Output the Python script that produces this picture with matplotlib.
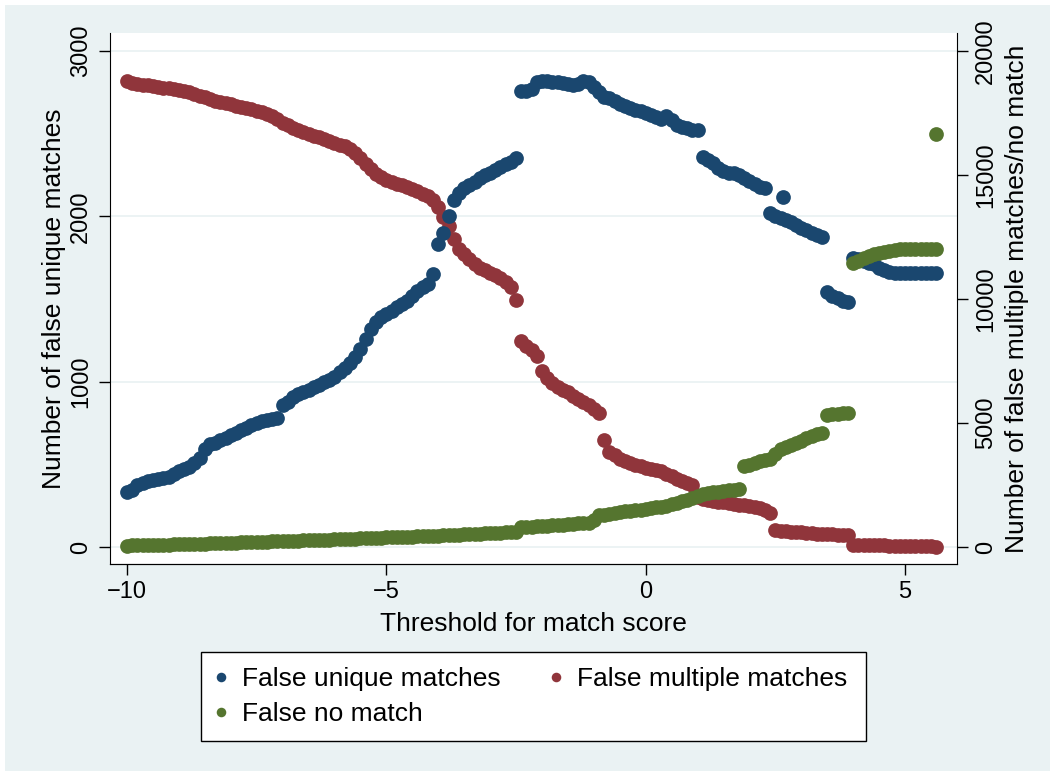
import numpy as np
import matplotlib
matplotlib.use('Agg')
import matplotlib.pyplot as plt
from matplotlib.patches import Rectangle

plt.rcParams['font.family'] = ['Liberation Sans', 'DejaVu Sans']

# threshold grid (-10.0 ... 5.6 in steps of 0.1)
thresholds = np.round(np.arange(-10.0, 5.65, 0.1), 1)

# false unique matches (left axis)
unique = [330, 345, 375, 390, 400, 405, 412, 418, 425, 440,
          460, 470, 485, 510, 540, 590, 620, 630, 645, 660,
          675, 690, 705, 720, 735, 750, 760, 770, 775, 780,
          860, 880, 905, 925, 940, 950, 965, 980, 995, 1010,
          1030, 1060, 1085, 1110, 1150, 1200, 1260, 1320, 1360, 1390,
          1410, 1430, 1450, 1470, 1490, 1520, 1550, 1570, 1590, 1650,
          1830, 1900, 2000, 2100, 2140, 2170, 2190, 2210, 2230, 2250,
          2265, 2280, 2300, 2315, 2330, 2350, 2760, 2760, 2770, 2810,
          2820, 2820, 2815, 2810, 2805, 2800, 2795, 2800, 2820, 2810,
          2780, 2750, 2720, 2715, 2700, 2680, 2665, 2655, 2645, 2635,
          2625, 2615, 2600, 2590, 2605, 2580, 2555, 2540, 2535, 2525,
          2520, 2360, 2340, 2320, 2290, 2275, 2265, 2260, 2250, 2230,
          2215, 2195, 2180, 2170, 2020, 2000, 1990, 1975, 1965, 1945,
          1930, 1915, 1900, 1885, 1875, 1540, 1520, 1505, 1490, 1480,
          1750, 1740, 1730, 1720, 1710, 1690, 1675, 1665, 1660, 1658,
          1655, 1655, 1655, 1655, 1655, 1655, 1655]
unique_extra_x = [2.65]
unique_extra_y = [2115]

# false multiple matches (right axis)
multiple = [18800, 18720, 18680, 18640, 18610, 18580, 18550, 18520, 18490, 18460,
            18420, 18380, 18330, 18270, 18200, 18130, 18060, 18000, 17950, 17900,
            17850, 17800, 17750, 17700, 17650, 17600, 17530, 17450, 17370, 17250,
            17100, 17000, 16900, 16800, 16720, 16650, 16580, 16520, 16450, 16380,
            16300, 16230, 16150, 16050, 15900, 15700, 15450, 15250, 15050, 14920,
            14800, 14720, 14640, 14580, 14500, 14430, 14350, 14250, 14150, 14000,
            13700, 13300, 12950, 12400, 12000, 11800, 11600, 11400, 11250, 11150,
            11050, 10950, 10850, 10700, 10500, 9980, 8300, 8100, 7950, 7700,
            7100, 6800, 6600, 6450, 6350, 6250, 6100, 5980, 5850, 5720,
            5550, 5400, 4300, 3850, 3700, 3550, 3450, 3380, 3300, 3250,
            3200, 3150, 3100, 3050, 2950, 2850, 2750, 2650, 2580, 2500,
            2000, 1950, 1900, 1860, 1830, 1800, 1780, 1750, 1700, 1680,
            1650, 1620, 1560, 1480, 1380, 700, 660, 640, 620, 600,
            590, 570, 550, 540, 530, 520, 510, 500, 490, 470,
            100, 90, 85, 80, 75, 70, 65, 60, 55, 50,
            45, 40, 40, 40, 40, 40, 0]

# false no match (right axis)
nomatch = [60, 64, 68, 72, 76, 80, 86, 92, 98, 104,
           110, 116, 122, 128, 134, 140, 146, 152, 158, 164,
           170, 176, 182, 188, 194, 200, 208, 216, 224, 232,
           240, 246, 252, 258, 264, 270, 278, 286, 294, 302,
           310, 318, 326, 334, 342, 350, 358, 366, 374, 382,
           390, 396, 402, 408, 414, 420, 428, 436, 444, 452,
           460, 470, 480, 490, 500, 510, 520, 530, 540, 550,
           560, 572, 584, 596, 608, 620, 790, 805, 820, 835,
           850, 864, 878, 892, 906, 920, 935, 950, 965, 980,
           1080, 1280, 1310, 1340, 1380, 1420, 1440, 1460, 1480, 1500,
           1520, 1560, 1600, 1630, 1670, 1720, 1780, 1840, 1900, 1980,
           2060, 2120, 2170, 2200, 2230, 2260, 2285, 2310, 2340, 3250,
           3300, 3380, 3450, 3500, 3550, 3750, 3950, 4050, 4120, 4200,
           4280, 4380, 4480, 4560, 4600, 5320, 5350, 5370, 5390, 5420,
           11450, 11550, 11650, 11750, 11800, 11850, 11900, 11950, 11980, 12000,
           12000, 12000, 12000, 12000, 12000, 12000, 12000]
nomatch_extra_x = [5.6]
nomatch_extra_y = [16650]

navy = '#1a476f'
maroon = '#90353b'
green = '#55752f'
bg = '#eaf2f3'
ms = 10.6

fig = plt.figure(figsize=(10.5, 7.71), dpi=100, facecolor='white')
fig.patches.append(Rectangle((5/1050, 0), 1, 1 - 5/771, transform=fig.transFigure,
                             facecolor=bg, edgecolor='none', zorder=-10))

pos = [110/1050, 1 - 564/771, 847/1050, 531/771]
xlim = (-10.328, 6.002)
ylim_l = (-102.8, 3108.9)
ylim_r = (ylim_l[0] * 20 / 3, ylim_l[1] * 20 / 3)

ax = fig.add_axes(pos)
ax.set_facecolor('white')
ax.set_xlim(xlim)
ax.set_ylim(ylim_l)
ax.set_yticks([0, 1000, 2000, 3000])
ax.set_xticks([-10, -5, 0, 5])
ax.grid(axis='y', color=bg, lw=1.3)
ax.set_axisbelow(True)
ax.spines['top'].set_visible(False)
ax.spines['right'].set_visible(False)
ax.tick_params(axis='both', direction='out', length=8, width=1, labelsize=17)
ax.tick_params(axis='y', labelrotation=90, pad=5)
ax.tick_params(axis='x', pad=4)
for lab in ax.get_yticklabels():
    lab.set_va('center')
ax.set_xlabel('Threshold for match score', fontsize=19, labelpad=7)
ax.set_ylabel('Number of false unique matches', fontsize=19, labelpad=3)

# right axis: multiple matches
axr = ax.twinx()
axr.set_ylim(ylim_r)
axr.set_yticks([0, 5000, 10000, 15000, 20000])
axr.tick_params(axis='y', direction='out', length=8, width=1, labelsize=17,
                labelrotation=90, pad=5)
for lab in axr.get_yticklabels():
    lab.set_va('center')
axr.spines['top'].set_visible(False)
axr.spines['left'].set_visible(False)
axr.set_ylabel('Number of false multiple matches/no match', fontsize=19, labelpad=6)
axr.patch.set_visible(False)
axr.set_zorder(1)
hr, = axr.plot(thresholds, multiple, 'o', ls='none', ms=ms, mew=0, color=maroon,
               label='False multiple matches')

# blue on top of red
axb = ax.twinx()
axb.set_ylim(ylim_l)
axb.axis('off')
axb.set_zorder(2)
hb, = axb.plot(thresholds, unique, 'o', ls='none', ms=ms, mew=0, color=navy,
               label='False unique matches')
axb.plot(unique_extra_x, unique_extra_y, 'o', ls='none', ms=ms, mew=0, color=navy)

# green on top of both
axg = ax.twinx()
axg.set_ylim(ylim_r)
axg.axis('off')
axg.set_zorder(3)
hg, = axg.plot(thresholds, nomatch, 'o', ls='none', ms=ms, mew=0, color=green,
               label='False no match')
axg.plot(nomatch_extra_x, nomatch_extra_y, 'o', ls='none', ms=ms, mew=0, color=green)

# legend box drawn separately, entries laid out inside it
fig.patches.append(Rectangle((201/1050, 1 - 741/771), 665/1050, 89/771,
                             transform=fig.transFigure, facecolor='white',
                             edgecolor='black', lw=1.0, zorder=1))
leg = fig.legend(handles=[hb, hg, hr], loc='center',
                 bbox_to_anchor=(201/1050, 1 - 741/771, 658/1050, 89/771),
                 mode='expand', ncol=2, fontsize=19, markerscale=0.65,
                 frameon=False, handlelength=0.6, handletextpad=0.5,
                 labelspacing=0.4, borderpad=0.45, borderaxespad=0)
leg.set_zorder(2)

fig.savefig('out.png', dpi=100, facecolor=fig.get_facecolor())
